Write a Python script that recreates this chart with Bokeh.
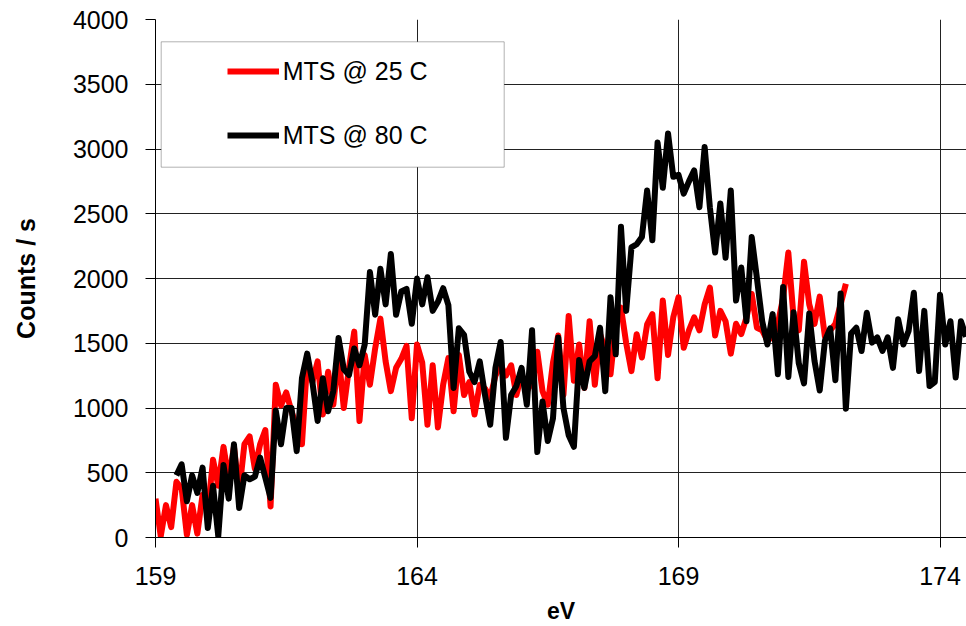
import numpy as np
from bokeh.plotting import figure
from bokeh.models import Range1d, FixedTicker, Legend, LegendItem, BoxAnnotation
from bokeh.embed import file_html
from bokeh.resources import INLINE

# ---------------- data ----------------
ev_step = 0.1
red_start = 159.0
red_counts = [
    300, 10, 250, 80, 430, 380, 20, 250, 30, 330,
    200, 600, 400, 700, 450, 700, 350, 720, 780, 530,
    720, 830, 240, 1180, 1020, 1120, 975, 850, 720, 1360,
    1200, 1360, 950, 1280, 1025, 1410, 1000, 1310, 1590, 900,
    1410, 1180, 1460, 1690, 1360, 1130, 1310, 1380, 1480, 920,
    1490, 1350, 870, 1330, 850, 1180, 1385, 975, 1410, 1100,
    1200, 950, 1180, 1150, 1080, 1250, 1330, 1250, 1330, 1100,
    1260, 1130, 1200, 1435, 1130, 1025, 1350, 1560, 1100, 1710,
    1210, 1490, 1155, 1670, 1180, 1570, 1450, 1260, 1645, 1775,
    1500, 1285, 1570, 1390, 1645, 1725, 1230, 1830, 1410, 1700,
    1855, 1465, 1600, 1700, 1600, 1800, 1930, 1560, 1750, 1670,
    1420, 1650, 1570, 1700, 1880, 1620, 1600, 1520, 1550, 1650,
    1850, 2200, 1700, 1600, 2130, 1800, 1650, 1860, 1550, 1600,
    1650, 1800, 1960,
]
black_start = 159.4
black_counts = [
    480, 565, 280, 480, 345, 540,
    73, 400, 10, 560, 300, 720, 228, 480, 450, 470,
    617, 461, 306, 980, 720, 1000, 1000, 667, 1230, 1420,
    1200, 900, 1230, 975, 1130, 1540, 1300, 1255, 1460, 1330,
    1490, 2050, 1720, 2075, 1800, 2190, 1720, 1900, 1920, 1650,
    2000, 1800, 2010, 1750, 1820, 1925, 1795, 1155, 1615, 1565,
    1280, 1200, 1360, 1100, 870, 1310, 1510, 770, 1100, 1170,
    1310, 1025, 1600, 660, 1050, 745, 920, 1545, 1000, 790,
    700, 1370, 1155, 1360, 1400, 1620, 1130, 1855, 1415, 2400,
    1750, 2240, 2265, 2320, 2680, 2295, 3050, 2700, 3120, 2785,
    2800, 2655, 2750, 2835, 2550, 3015, 2550, 2200, 2580, 2160,
    2680, 1830, 2085, 1670, 2320, 2000, 1670, 1490, 1725, 1260,
    1935, 1240, 1740, 1345, 1190, 1730, 1365, 1135, 1520, 1615,
    1215, 1885, 995, 1575, 1620, 1440, 1735, 1505, 1545, 1440,
    1545, 1310, 1685, 1490, 1595, 1890, 1285, 1750, 1170, 1200,
    1875, 1490, 1670, 1235, 1670, 1550,
]
series_labels = ["MTS @ 25 C", "MTS @ 80 C"]
x_ticks = [159, 164, 169, 174]
y_ticks = [0, 500, 1000, 1500, 2000, 2500, 3000, 3500, 4000]

red_ev = np.round(red_start + ev_step * np.arange(len(red_counts)), 2)
black_ev = np.round(black_start + ev_step * np.arange(len(black_counts)), 2)

# ---------------- layout ----------------
W, H = 966, 626
FL, FT, FB = 155, 19, 89
FW, FH = W - FL, H - FT - FB
X0, X1 = 159.0, 159.0 + FW / 52.3
Y0, Y1 = 0, 4000

FONT = "Liberation Sans"

p = figure(width=W, height=H, output_backend="svg", toolbar_location=None,
           x_range=Range1d(X0, X1), y_range=Range1d(Y0, Y1),
           min_border_left=FL, min_border_right=0, min_border_top=FT,
           min_border_bottom=FB)
p.outline_line_color = None
p.background_fill_color = "white"
p.border_fill_color = "white"

for ax in (p.xaxis[0], p.yaxis[0]):
    ax.axis_line_color = "black"
    ax.axis_line_width = 1
    ax.major_tick_line_color = "black"
    ax.major_tick_out = 10
    ax.major_tick_in = 0
    ax.minor_tick_line_color = None
    ax.major_label_text_font = FONT
    ax.major_label_text_font_size = "25px"
    ax.major_label_text_color = "black"
    ax.axis_label_text_font = FONT
    ax.axis_label_text_font_style = "bold"
    ax.axis_label_text_color = "black"

p.xaxis.axis_label_text_font_size = "23px"
p.yaxis.axis_label_text_font_size = "25px"
p.xaxis.ticker = FixedTicker(ticks=x_ticks)
p.yaxis.ticker = FixedTicker(ticks=y_ticks)
p.xaxis.axis_label = "eV"
p.yaxis.axis_label = "Counts / s"
p.yaxis.major_label_standoff = 17
p.xaxis.major_label_standoff = 19
p.yaxis.axis_label_standoff = 30
p.xaxis.axis_label_standoff = 10

p.xgrid.ticker = FixedTicker(ticks=x_ticks)
p.ygrid.ticker = FixedTicker(ticks=y_ticks)
for g in (p.xgrid[0], p.ygrid[0]):
    g.grid_line_color = "#222222"
    g.grid_line_width = 1

r_red = p.line(red_ev, red_counts, line_color="#ff0000", line_width=6,
               line_join="round")
r_black = p.line(black_ev, black_counts, line_color="black", line_width=6,
                 line_join="round")

def px_x(px):
    return X0 + (px - FL) / FW * (X1 - X0)

def px_y(py):
    return Y0 + (FT + FH - py) / FH * (Y1 - Y0)

box = BoxAnnotation(left=px_x(160.7), right=px_x(503.7),
                    top=px_y(41.3), bottom=px_y(166.7),
                    fill_color="white", fill_alpha=1.0,
                    line_color="black", line_width=1)
p.add_layout(box)

legend = Legend(items=[LegendItem(label=series_labels[0], renderers=[r_red]),
                       LegendItem(label=series_labels[1], renderers=[r_black])],
                location=(226.7 - FL, FT + FH - 149.5),
                glyph_width=52, glyph_height=28, label_height=28,
                spacing=35, padding=0, margin=0, label_standoff=4,
                border_line_color=None, background_fill_alpha=0,
                label_text_font=FONT, label_text_font_size="25px",
                label_text_color="black")
p.add_layout(legend)

open("out.html", "w").write(file_html(p, INLINE))
